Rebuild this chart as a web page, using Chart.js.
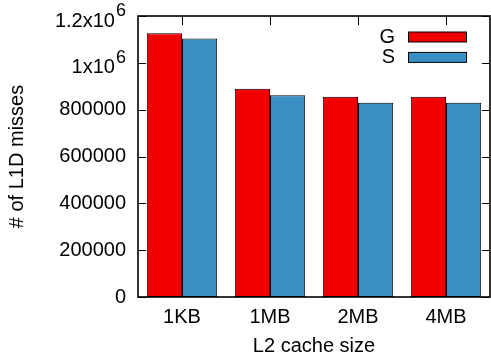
<!DOCTYPE html>
<html>
<head>
<meta charset="utf-8">
<script src="https://cdn.jsdelivr.net/npm/chart.js@4.4.0/dist/chart.umd.min.js"></script>
<style>
  html, body { margin: 0; padding: 0; background: #fff; }
</style>
</head>
<body>
<canvas id="barChart" width="491" height="363"></canvas>
<script>
// data
const cacheSizes = ['1KB', '1MB', '2MB', '4MB'];
const missesG = [1126000, 889000, 855000, 855000];
const missesS = [1104000, 862000, 830000, 830000];
const yTickValues = [0, 200000, 400000, 600000, 800000, 1000000, 1200000];
const yTickLabels = ['0', '200000', '400000', '600000', '800000', '1x10^6', '1.2x10^6'];

const FONT = '"Liberation Sans", Arial, Helvetica, sans-serif';
const FS = 20;

// gnuplot-like frame, inward tics, y labels with superscripts and an inside legend
const gnuplotLook = {
    id: 'gnuplotLook',
    afterDatasetsDraw(chart) {
        const ctx = chart.ctx;
        const area = chart.chartArea;
        const x = chart.scales.x;
        const y = chart.scales.y;
        ctx.save();

        // tics
        ctx.strokeStyle = '#000';
        ctx.lineWidth = 1;
        ctx.beginPath();
        yTickValues.forEach(v => {
            const py = Math.round(y.getPixelForValue(v)) + 0.5;
            ctx.moveTo(area.left, py); ctx.lineTo(area.left + 8, py);
            ctx.moveTo(area.right, py); ctx.lineTo(area.right - 8, py);
        });
        cacheSizes.forEach((c, i) => {
            const px = Math.round(x.getPixelForValue(i)) + 0.5;
            ctx.moveTo(px, area.top); ctx.lineTo(px, area.top + 9);
        });
        ctx.stroke();

        // border
        ctx.lineWidth = 1.6;
        ctx.strokeRect(area.left, area.top, area.right - area.left, area.bottom - area.top);

        // y tick labels
        ctx.fillStyle = '#000';
        ctx.textAlign = 'right';
        ctx.textBaseline = 'middle';
        const labelRight = area.left - 12;
        yTickValues.forEach((v, i) => {
            const py = y.getPixelForValue(v);
            const parts = yTickLabels[i].split('^');
            ctx.font = FS + 'px ' + FONT;
            if (parts.length === 1) {
                ctx.fillText(parts[0], labelRight, py);
            } else {
                ctx.font = (FS - 2) + 'px ' + FONT;
                const ew = ctx.measureText(parts[1]).width;
                ctx.fillText(parts[1], labelRight, py - 5);
                ctx.font = FS + 'px ' + FONT;
                ctx.fillText(parts[0], labelRight - ew - 1, py + 5);
            }
        });

        // legend
        ctx.font = FS + 'px ' + FONT;
        chart.data.datasets.forEach((ds, i) => {
            const cy = 37 + i * 20.4;
            ctx.fillStyle = '#000';
            ctx.textAlign = 'right';
            ctx.fillText(ds.label, 395, cy);
            ctx.fillStyle = ds.backgroundColor;
            ctx.fillRect(408.5, cy - 5, 58, 10);
            ctx.lineWidth = 1;
            ctx.strokeStyle = '#000';
            ctx.strokeRect(408.5, cy - 5, 58, 10);
        });

        ctx.restore();
    }
};

const ctx = document.getElementById('barChart').getContext('2d');
const chart = new Chart(ctx, {
    type: 'bar',
    data: {
        labels: cacheSizes,
        datasets: [{
            label: 'G',
            data: missesG,
            backgroundColor: '#f00000',
            borderColor: '#000',
            borderWidth: 1,
            borderSkipped: false
        }, {
            label: 'S',
            data: missesS,
            backgroundColor: '#398ec4',
            borderColor: '#000',
            borderWidth: 1,
            borderSkipped: false
        }]
    },
    options: {
        responsive: false,
        animation: false,
        devicePixelRatio: 1,
        layout: { padding: { top: 16, right: 1, left: 0, bottom: 0 } },
        plugins: {
            legend: { display: false },
            tooltip: { enabled: false }
        },
        datasets: {
            bar: { categoryPercentage: 0.8, barPercentage: 1.0 }
        },
        scales: {
            x: {
                grid: { display: false, drawTicks: false },
                border: { display: false },
                ticks: {
                    color: '#000',
                    padding: 8,
                    font: { family: FONT, size: FS }
                },
                title: {
                    display: true,
                    text: 'L2 cache size',
                    color: '#000',
                    padding: { top: 0, bottom: 5 },
                    font: { family: FONT, size: FS }
                },
                afterFit: scale => { scale.height = 66; }
            },
            y: {
                min: 0,
                max: 1200000,
                grid: { display: false, drawTicks: false },
                border: { display: false },
                ticks: { display: false, stepSize: 200000 },
                title: {
                    display: true,
                    text: '# of L1D misses',
                    color: '#000',
                    padding: { top: 5, bottom: 0 },
                    font: { family: FONT, size: FS }
                },
                afterFit: scale => { scale.width = 138; }
            }
        }
    },
    plugins: [gnuplotLook]
});
</script>
</body>
</html>
